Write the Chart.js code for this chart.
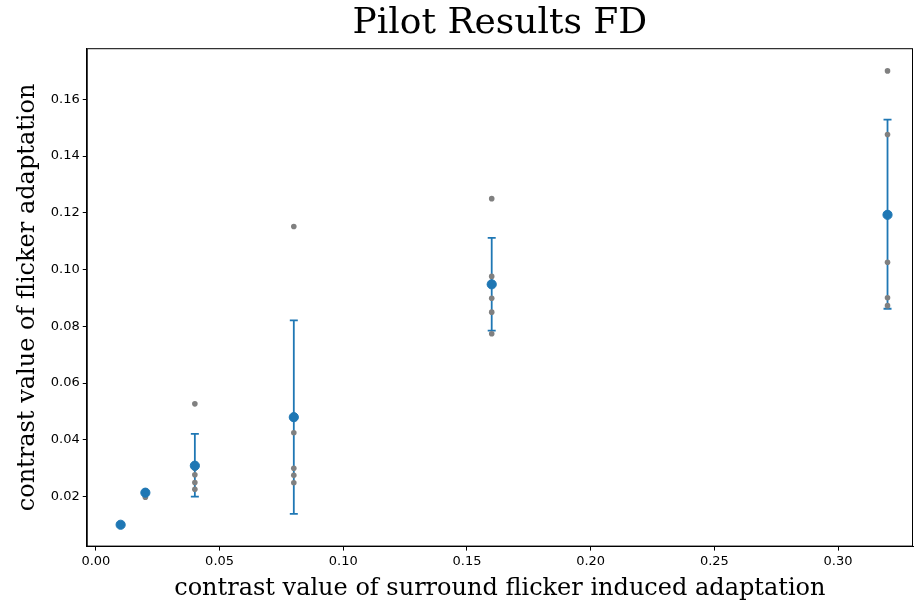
<!DOCTYPE html>
<html lang="en">
<head>
    <meta charset="UTF-8">
    <title>Pilot Results FD</title>
    <script src="https://cdn.jsdelivr.net/npm/chart.js"></script>
    <style>
        html, body { margin: 0; padding: 0; background: #fff; overflow: hidden; }
        .chart-box { width: 914px; height: 603px; position: relative; }
        canvas { display: block; }
    </style>
</head>
<body>
    <div class="chart-box">
        <canvas id="pilotChart"></canvas>
    </div>

    <script>
        // surround contrast levels (x)
        const contrastLevels = [0.01, 0.02, 0.04, 0.08, 0.16, 0.32];

        // individual observations per level
        const obs001 = [0.0100, 0.0098, 0.0102];
        const obs002 = [0.0220, 0.0214, 0.0205, 0.0198];
        const obs004 = [0.0527, 0.0300, 0.0277, 0.0250, 0.0226];
        const obs008 = [0.1152, 0.0425, 0.0300, 0.0275, 0.0249];
        const obs016 = [0.1250, 0.0976, 0.0950, 0.0899, 0.0850, 0.0774];
        const obs032 = [0.1700, 0.1476, 0.1026, 0.0901, 0.0873];
        const observations = [obs001, obs002, obs004, obs008, obs016, obs032];

        // means and error bar ends
        const meanValues = [0.0101, 0.0214, 0.0309, 0.0480, 0.0948, 0.1193];
        const errLow = [0.0101, 0.0206, 0.0200, 0.0139, 0.0785, 0.0862];
        const errHigh = [0.0101, 0.0222, 0.0421, 0.0821, 0.1112, 0.1528];

        const xTicks = [0.00, 0.05, 0.10, 0.15, 0.20, 0.25, 0.30];
        const yTicks = [0.02, 0.04, 0.06, 0.08, 0.10, 0.12, 0.14, 0.16];

        const blue = "#1f77b4";
        const grey = "#808080";

        // flatten the raw points
        const rawPoints = [];
        contrastLevels.forEach((x, i) => {
            observations[i].forEach(y => rawPoints.push({ x: x, y: y }));
        });

        // error bars as one line dataset with gaps between levels
        const errPoints = [];
        contrastLevels.forEach((x, i) => {
            if (errHigh[i] - errLow[i] < 0.002) return;
            errPoints.push({ x: x, y: errLow[i] });
            errPoints.push({ x: x, y: errHigh[i] });
            errPoints.push({ x: x, y: null });
        });

        const meanPoints = contrastLevels.map((x, i) => ({ x: x, y: meanValues[i] }));

        // matplotlib style box around the axes
        const frame = {
            id: "frame",
            afterDraw(chart) {
                const a = chart.chartArea;
                const ctx = chart.ctx;
                ctx.save();
                ctx.strokeStyle = "#000";
                ctx.lineWidth = 1;
                ctx.strokeRect(a.left + 0.5, a.top + 0.5, a.right - a.left - 1, a.bottom - a.top - 1);
                ctx.restore();
            }
        };

        const tickFont = { family: "DejaVu Sans", size: 13 };

        new Chart(document.getElementById("pilotChart"), {
            type: "scatter",
            data: {
                datasets: [
                    {
                        label: "mean",
                        data: meanPoints,
                        backgroundColor: blue,
                        borderColor: blue,
                        pointRadius: 4.6,
                        pointHoverRadius: 4.6,
                        order: 0
                    },
                    {
                        label: "observations",
                        data: rawPoints,
                        backgroundColor: grey,
                        borderColor: grey,
                        pointRadius: 2.8,
                        borderWidth: 0,
                        order: 1
                    },
                    {
                        label: "error",
                        type: "line",
                        data: errPoints,
                        borderColor: blue,
                        backgroundColor: blue,
                        borderWidth: 1.8,
                        spanGaps: false,
                        pointStyle: "line",
                        pointRadius: 4,
                        pointBorderWidth: 1.8,
                        pointBorderColor: blue,
                        order: 2
                    }
                ]
            },
            options: {
                responsive: true,
                maintainAspectRatio: false,
                animation: false,
                layout: { autoPadding: false, padding: { left: 13, right: 1, top: 0, bottom: 0 } },
                plugins: {
                    legend: { display: false },
                    tooltip: { enabled: false }
                },
                scales: {
                    // top axis only carries the title, centred over the plot like matplotlib
                    top: {
                        type: "linear",
                        position: "top",
                        min: -0.0037,
                        max: 0.3303,
                        ticks: { display: false },
                        grid: { display: false, drawTicks: false },
                        border: { display: false },
                        title: {
                            display: true,
                            text: "Pilot Results FD",
                            color: "#000",
                            font: { family: "DejaVu Serif", size: 36, weight: "normal" },
                            padding: { top: 2, bottom: 3 }
                        }
                    },
                    x: {
                        type: "linear",
                        min: -0.0037,
                        max: 0.3303,
                        afterBuildTicks: s => { s.ticks = xTicks.map(v => ({ value: v })); },
                        ticks: {
                            color: "#000",
                            font: tickFont,
                            maxRotation: 0,
                            padding: 3,
                            callback: v => v.toFixed(2)
                        },
                        grid: { display: true, drawOnChartArea: false, drawTicks: true, tickLength: 4, color: "#000" },
                        border: { display: true, color: "#000" },
                        title: {
                            display: true,
                            text: "contrast value of surround flicker induced adaptation",
                            color: "#000",
                            font: { family: "DejaVu Serif", size: 24 },
                            padding: { top: 2, bottom: 0 }
                        }
                    },
                    y: {
                        type: "linear",
                        min: 0.0024,
                        max: 0.1780,
                        afterBuildTicks: s => { s.ticks = yTicks.map(v => ({ value: v })); },
                        ticks: {
                            color: "#000",
                            font: tickFont,
                            padding: 3,
                            callback: v => v.toFixed(2)
                        },
                        grid: { display: true, drawOnChartArea: false, drawTicks: true, tickLength: 4, color: "#000" },
                        border: { display: true, color: "#000" },
                        title: {
                            display: true,
                            text: "contrast value of flicker adaptation",
                            color: "#000",
                            font: { family: "DejaVu Serif", size: 24 },
                            padding: { top: 0, bottom: 6 }
                        }
                    }
                }
            },
            plugins: [frame]
        });
    </script>
</body>
</html>
